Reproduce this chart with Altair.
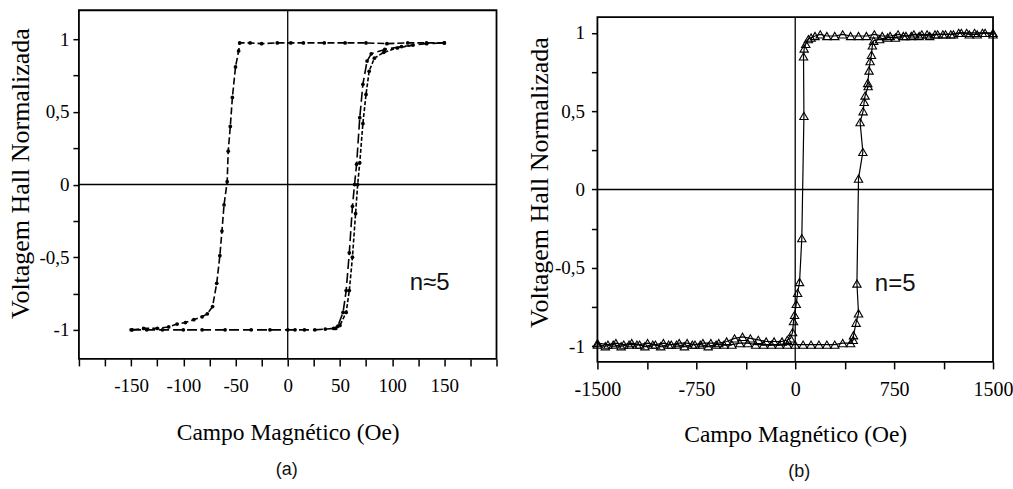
import altair as alt
import pandas as pd

# ---------------- Panel (a) data ----------------
a_desc_x = [150, 133, 115, 95, 75, 55, 35, 15, 3, -10, -25, -36, -46,
            -47, -50, -53, -55, -57, -58, -61, -63, -65, -68, -72, -77, -82,
            -90, -98, -106, -114, -125, -138, -149]
a_desc_y = [0.975, 0.975, 0.975, 0.97, 0.975, 0.975, 0.975, 0.975, 0.975, 0.975, 0.97, 0.975, 0.975,
            0.92, 0.81, 0.6, 0.4, 0.23, 0.02, -0.14, -0.32, -0.49, -0.68, -0.84, -0.89, -0.91,
            -0.93, -0.95, -0.96, -0.98, -0.99, -0.99, -1.0]

a_asc1_x = [-150, -135, -120, -100, -82, -60, -35, -17, 0, 7, 16, 26, 36, 44,
            48, 53, 56, 59, 62, 64, 66, 69, 72, 76, 80, 93, 109, 133, 150]
a_asc1_y = [-1.0, -1.0, -1.0, -1.0, -1.0, -1.0, -1.0, -1.0, -1.0, -1.0, -1.0, -1.0, -0.995, -0.99,
            -0.975, -0.88, -0.73, -0.47, -0.15, 0.0, 0.14, 0.46, 0.69, 0.85, 0.9, 0.93, 0.95, 0.97, 0.975]

a_asc2_x = [46, 50, 56, 59, 62, 65, 67, 69, 72, 75, 78, 83, 92, 105, 120]
a_asc2_y = [-0.99, -0.97, -0.88, -0.73, -0.5, -0.2, 0.0, 0.15, 0.42, 0.62, 0.78, 0.87, 0.91, 0.94, 0.96]

# ---------------- Panel (b) data ----------------
b_desc_x = [1500, 1440, 1380, 1320, 1260, 1200, 1140, 1080, 1020, 960,
            900, 840, 780, 720, 660, 600, 540, 480, 420, 360,
            300, 240, 190, 150, 120, 100, 80, 68, 63, 66,
            50, 33, 18, 8, -5, -13, -20, -35, -60, -100,
            -160, -220, -280, -340, -400, -460, -520, -580, -640, -700,
            -760, -820, -880, -940, -1000, -1060, -1120, -1180, -1240, -1300,
            -1360, -1420, -1500]
b_desc_y = [0.99, 1.0, 0.99, 0.99, 1.0, 0.99, 0.99, 0.99, 0.98, 0.99,
            0.99, 0.98, 0.99, 0.98, 0.98, 0.99, 0.98, 0.98, 0.98, 0.99,
            0.98, 0.98, 0.99, 0.98, 0.97, 0.96, 0.93, 0.9, 0.85, 0.47,
            -0.31, -0.59, -0.66, -0.73, -0.8, -0.84, -0.91, -0.95, -0.96, -0.97,
            -0.97, -0.97, -0.96, -0.95, -0.94, -0.95, -0.97, -0.98, -0.98, -0.98,
            -0.99, -0.98, -0.98, -0.99, -0.98, -0.99, -0.98, -0.99, -0.98, -0.99,
            -0.98, -0.99, -0.98]

b_asc_x = [-1500, -1440, -1380, -1320, -1260, -1200, -1140, -1080, -1020, -960,
           -900, -840, -780, -720, -660, -600, -540, -480, -420, -360,
           -300, -240, -180, -120, -60, 0, 60, 120, 180, 240,
           300, 360, 420, 440, 442, 462, 480, 468, 480, 513,
           492, 515, 523, 530, 553, 550, 560, 568, 578, 585,
           595, 640, 700, 760, 820, 880, 940, 1000, 1060, 1120,
           1180, 1240, 1300, 1360, 1420, 1500]
b_asc_y = [-0.99, -1.0, -0.99, -1.0, -0.99, -0.99, -1.0, -0.99, -1.0, -0.99,
           -0.99, -1.0, -0.99, -0.99, -1.0, -0.99, -0.99, -0.99, -0.98, -0.98,
           -0.99, -0.99, -0.99, -0.99, -0.99, -0.99, -0.99, -0.99, -0.99, -0.99,
           -0.99, -0.98, -0.98, -0.96, -0.93, -0.85, -0.79, -0.6, 0.07, 0.24,
           0.43, 0.5, 0.56, 0.6, 0.66, 0.68, 0.76, 0.82, 0.86, 0.92,
           0.95, 0.96, 0.97, 0.97, 0.98, 0.98, 0.98, 0.99, 0.99, 0.99,
           0.99, 1.0, 1.0, 1.0, 1.0, 1.0]

# axis ticks / labels
a_xticks = [-200, -175, -150, -125, -100, -75, -50, -25, 0, 25, 50, 75, 100, 125, 150, 175, 200]
a_yticks = [-1, -0.75, -0.5, -0.25, 0, 0.25, 0.5, 0.75, 1]
b_xticks = [-1500, -1125, -750, -375, 0, 375, 750, 1125, 1500]
b_yticks = [-1, -0.75, -0.5, -0.25, 0, 0.25, 0.5, 0.75, 1]

XTITLE = "Campo Magnético (Oe)"
YTITLE = "Voltagem Hall Normalizada"

# geometry
WA, HA = 418, 349
WB, HB = 396, 352
A_XDOM = [-200, 200]
A_YDOM = [-1.2, 1.2]
B_XDOM = [-1500, 1500]
B_YDOM = [-1.1, 1.1446]
B_FRAME_Y = [-1.1, 1.1]

SERIF = "Liberation Serif"
SANS = "Liberation Sans"

ylab = ("(abs(datum.value*2 - round(datum.value*2)) < 1e-6) ? "
        "((datum.value < 0 ? '-' : '') + replace(format(abs(datum.value), '~g'), '.', ',')) : ''")

common_axis = dict(labelFont=SERIF, titleFont=SERIF, labelColor="black", titleColor="black",
                   titleFontWeight="normal", tickColor="black", tickWidth=1.5, grid=False,
                   domain=False, labelFlush=False, labelOverlap=False)


def make_df(xs, ys, name):
    return pd.DataFrame({"x": xs, "y": ys, "s": name, "i": list(range(len(xs)))})


# ---------------- Panel (a) ----------------
a_xlab = "(datum.value % 50 == 0 && abs(datum.value) <= 150) ? (datum.value < 0 ? '-' + abs(datum.value) : '' + datum.value) : ''"
ax = alt.X("x:Q", scale=alt.Scale(domain=A_XDOM, nice=False, zero=False),
           axis=alt.Axis(values=a_xticks, labelExpr=a_xlab, title=XTITLE,
                         titleFontSize=23.5, titleY=74, titleBaseline="middle",
                         labelPadding=11, tickSize=7, labelFontSize=19, **common_axis))
ay = alt.Y("y:Q", scale=alt.Scale(domain=A_YDOM, nice=False, zero=False),
           axis=alt.Axis(values=a_yticks, labelExpr=ylab, title=YTITLE,
                         titleFontSize=26, titleAngle=270, titleX=-58, titleY=163,
                         titleAlign="center", titleBaseline="middle",
                         labelPadding=4, tickSize=6, labelFontSize=19, **common_axis))

df_a = pd.concat([make_df(a_desc_x, a_desc_y, "desc"),
                  make_df(a_asc1_x, a_asc1_y, "asc1"),
                  make_df(a_asc2_x, a_asc2_y, "asc2")])

bg = alt.Chart(pd.DataFrame({"d": [0]})).mark_rect(fill="white", fillOpacity=0).encode(
    x=alt.value(-79), x2=alt.value(934), y=alt.value(-10), y2=alt.value(479))

frame_a = alt.Chart(pd.DataFrame({"x": [A_XDOM[0]], "x2": [A_XDOM[1]], "y": [A_YDOM[0]], "y2": [A_YDOM[1]]})).mark_rect(
    fillOpacity=0, stroke="black", strokeWidth=1.8).encode(x=ax, x2="x2:Q", y=ay, y2="y2:Q")
zero_v_a = alt.Chart(pd.DataFrame({"x": [0], "y": [A_YDOM[0]], "y2": [A_YDOM[1]]})).mark_rule(
    color="black", strokeWidth=1.3).encode(x=ax, y=ay, y2="y2:Q")
zero_h_a = alt.Chart(pd.DataFrame({"x": [A_XDOM[0]], "x2": [A_XDOM[1]], "y": [0]})).mark_rule(
    color="black", strokeWidth=1.5).encode(x=ax, x2="x2:Q", y=ay)

lines_a = alt.Chart(df_a).mark_line(color="black", strokeWidth=1.6).encode(
    x=ax, y=ay, detail="s:N", order="i:Q",
    strokeDash=alt.StrokeDash("s:N", scale=alt.Scale(domain=["desc", "asc1", "asc2"],
                                                     range=[[7, 3], [10, 4], [4, 2]]), legend=None))
pts_a = alt.Chart(df_a).mark_point(filled=True, color="black", size=14, shape="circle", opacity=1).encode(
    x=ax, y=ay)
txt_a = alt.Chart(pd.DataFrame({"x": [136], "y": [-0.68], "t": ["n≈5"]})).mark_text(
    font=SANS, fontSize=24, color="#111", align="center", baseline="middle").encode(x=ax, y=ay, text="t:N")
cap_a = alt.Chart(pd.DataFrame({"t": ["(a)"]})).mark_text(
    font=SANS, fontSize=18, color="#111", align="center", baseline="middle").encode(
    text="t:N", x=alt.value(208), y=alt.value(460))

panel_a = alt.layer(bg, frame_a, zero_v_a, zero_h_a, lines_a, pts_a, txt_a, cap_a).properties(width=WA, height=HA)

# ---------------- Panel (b) ----------------
b_xlab = "(datum.value % 750 == 0) ? (datum.value < 0 ? '-' + abs(datum.value) : '' + datum.value) : ''"
bx = alt.X("x:Q", scale=alt.Scale(domain=B_XDOM, nice=False, zero=False),
           axis=alt.Axis(values=b_xticks, labelExpr=b_xlab, title=XTITLE,
                         titleFontSize=23.5, titleY=73, titleBaseline="middle",
                         labelPadding=11, tickSize=7, labelFontSize=20, **common_axis))
by = alt.Y("y:Q", scale=alt.Scale(domain=B_YDOM, nice=False, zero=False),
           axis=alt.Axis(values=b_yticks, labelExpr=ylab, title=YTITLE,
                         titleFontSize=26, titleAngle=270, titleX=-58, titleY=172,
                         titleAlign="center", titleBaseline="middle",
                         labelPadding=7, tickSize=6, labelFontSize=19, **common_axis))

df_b = pd.concat([make_df(b_desc_x, b_desc_y, "desc"), make_df(b_asc_x, b_asc_y, "asc")])

frame_b = alt.Chart(pd.DataFrame({"x": [B_XDOM[0]], "x2": [B_XDOM[1]], "y": [B_FRAME_Y[0]], "y2": [B_FRAME_Y[1]]})).mark_rect(
    fillOpacity=0, stroke="black", strokeWidth=1.8).encode(x=bx, x2="x2:Q", y=by, y2="y2:Q")
zero_v_b = alt.Chart(pd.DataFrame({"x": [0], "y": [B_FRAME_Y[0]], "y2": [B_FRAME_Y[1]]})).mark_rule(
    color="black", strokeWidth=1.3).encode(x=bx, y=by, y2="y2:Q")
zero_h_b = alt.Chart(pd.DataFrame({"x": [B_XDOM[0]], "x2": [B_XDOM[1]], "y": [0]})).mark_rule(
    color="black", strokeWidth=1.5).encode(x=bx, x2="x2:Q", y=by)
lines_b = alt.Chart(df_b).mark_line(color="black", strokeWidth=1.2).encode(
    x=bx, y=by, detail="s:N", order="i:Q")
pts_b = alt.Chart(df_b).mark_point(shape="triangle-up", filled=False, color="black", size=70,
                                   strokeWidth=1.1, opacity=1).encode(x=bx, y=by)
txt_b = alt.Chart(pd.DataFrame({"x": [758], "y": [-0.605], "t": ["n=5"]})).mark_text(
    font=SANS, fontSize=24, color="#111", align="center", baseline="middle").encode(x=bx, y=by, text="t:N")
cap_b = alt.Chart(pd.DataFrame({"t": ["(b)"]})).mark_text(
    font=SANS, fontSize=18, color="#111", align="center", baseline="middle").encode(
    text="t:N", x=alt.value(202), y=alt.value(462))

panel_b = alt.layer(frame_b, zero_v_b, zero_h_b, lines_b, pts_b, txt_b, cap_b).properties(width=WB, height=HB)

chart = alt.hconcat(panel_a, panel_b, spacing=101, bounds="flush").properties(
    padding=0, background="white"
).configure_view(stroke=None)

chart.save("out.html", embed_options={"renderer": "svg", "actions": False})
